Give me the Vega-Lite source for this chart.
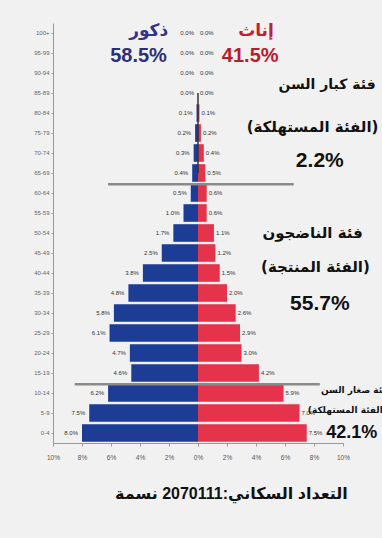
{
  "$schema": "https://vega.github.io/schema/vega-lite/v6.json",
  "width": 290,
  "height": 420,
  "autosize": {"type": "none"},
  "padding": {"left": 53, "top": 23, "right": 39, "bottom": 95},
  "background": "#f1f1f1",
  "config": {"view": {"stroke": null}, "font": "Liberation Sans", "axis": {"labelOverlap": false}, "axisX": {"labelOverlap": false, "labelSeparation": 0, "labelBound": false}},
  "datasets": {
    "pyramid": [
      {"age": "100+", "male": 0.0, "female": 0.0},
      {"age": "95-99", "male": 0.0, "female": 0.0},
      {"age": "90-94", "male": 0.0, "female": 0.0},
      {"age": "85-89", "male": 0.0, "female": 0.0},
      {"age": "80-84", "male": 0.1, "female": 0.1},
      {"age": "75-79", "male": 0.2, "female": 0.2},
      {"age": "70-74", "male": 0.3, "female": 0.4},
      {"age": "65-69", "male": 0.4, "female": 0.5},
      {"age": "60-64", "male": 0.5, "female": 0.6},
      {"age": "55-59", "male": 1.0, "female": 0.6},
      {"age": "50-54", "male": 1.7, "female": 1.1},
      {"age": "45-49", "male": 2.5, "female": 1.2},
      {"age": "40-44", "male": 3.8, "female": 1.5},
      {"age": "35-39", "male": 4.8, "female": 2.0},
      {"age": "30-34", "male": 5.8, "female": 2.6},
      {"age": "25-29", "male": 6.1, "female": 2.9},
      {"age": "20-24", "male": 4.7, "female": 3.0},
      {"age": "15-19", "male": 4.6, "female": 4.2},
      {"age": "10-14", "male": 6.2, "female": 5.9},
      {"age": "5-9", "male": 7.5, "female": 7.0},
      {"age": "0-4", "male": 8.0, "female": 7.5}
    ]
  },
  "layer": [
    {
      "data": {"name": "pyramid"},
      "transform": [{"calculate": "-datum.male", "as": "m"}],
      "mark": {"type": "bar", "color": "#1d3c95"},
      "encoding": {
        "y": {
          "field": "age", "type": "nominal", "title": null,
          "scale": {
            "domain": ["100+","95-99","90-94","85-89","80-84","75-79","70-74","65-69","60-64","55-59","50-54","45-49","40-44","35-39","30-34","25-29","20-24","15-19","10-14","5-9","0-4"],
            "paddingInner": 0.12, "paddingOuter": 0.06
          },
          "axis": {"labelFontSize": 6, "labelColor": "#666666", "domainColor": "#999999", "tickColor": "#999999", "tickSize": 2, "labelPadding": 2, "title": null}
        },
        "x": {
          "field": "m", "type": "quantitative", "title": null,
          "scale": {"domain": [-10, 10], "nice": false},
          "axis": {"values": [-10,-8,-6,-4,-2,0,2,4,6,8,10], "labelExpr": "abs(datum.value) + '%'", "labelOverlap": false, "labelFlush": false, "labelFontSize": 6.5, "labelColor": "#555555", "domainColor": "#999999", "tickColor": "#999999", "tickSize": 3, "labelPadding": 8, "grid": false, "title": null}
        },
        "x2": {"datum": 0}
      }
    },
    {
      "data": {"name": "pyramid"},
      "mark": {"type": "bar", "color": "#e5334b"},
      "encoding": {
        "y": {"field": "age", "type": "nominal", "title": null},
        "x": {"field": "female", "type": "quantitative", "title": null, "axis": {"values": [-10,-8,-6,-4,-2,0,2,4,6,8,10], "labelExpr": "abs(datum.value) + '%'", "labelOverlap": false, "labelFlush": false, "labelFontSize": 6.5, "labelColor": "#555555", "domainColor": "#999999", "tickColor": "#999999", "tickSize": 3, "labelPadding": 8, "grid": false, "title": null}},
        "x2": {"datum": 0}
      }
    },
    {
      "data": {"values": [{"a": 1}]},
      "mark": {"type": "rule", "color": "#333333", "strokeWidth": 1.5},
      "encoding": {
        "x": {"datum": 0, "type": "quantitative", "title": null, "axis": {"values": [-10,-8,-6,-4,-2,0,2,4,6,8,10], "labelExpr": "abs(datum.value) + '%'", "labelOverlap": false, "labelFlush": false, "labelFontSize": 6.5, "labelColor": "#555555", "domainColor": "#999999", "tickColor": "#999999", "tickSize": 3, "labelPadding": 8, "grid": false, "title": null}},
        "y": {"datum": "85-89", "type": "nominal", "title": null},
        "y2": {"datum": "65-69"}
      }
    },
    {
      "data": {"name": "pyramid"},
      "transform": [{"calculate": "-datum.male", "as": "m"}, {"calculate": "format(datum.male, '.1f') + '%'", "as": "lab"}],
      "mark": {"type": "text", "align": "right", "dx": -4, "fontSize": 6, "color": "#333333"},
      "encoding": {
        "y": {"field": "age", "type": "nominal", "title": null},
        "x": {"field": "m", "type": "quantitative", "title": null, "axis": {"values": [-10,-8,-6,-4,-2,0,2,4,6,8,10], "labelExpr": "abs(datum.value) + '%'", "labelOverlap": false, "labelFlush": false, "labelFontSize": 6.5, "labelColor": "#555555", "domainColor": "#999999", "tickColor": "#999999", "tickSize": 3, "labelPadding": 8, "grid": false, "title": null}},
        "text": {"field": "lab"}
      }
    },
    {
      "data": {"name": "pyramid"},
      "transform": [{"calculate": "format(datum.female, '.1f') + '%'", "as": "lab"}],
      "mark": {"type": "text", "align": "left", "dx": 2, "fontSize": 6, "color": "#333333"},
      "encoding": {
        "y": {"field": "age", "type": "nominal", "title": null},
        "x": {"field": "female", "type": "quantitative", "title": null, "axis": {"values": [-10,-8,-6,-4,-2,0,2,4,6,8,10], "labelExpr": "abs(datum.value) + '%'", "labelOverlap": false, "labelFlush": false, "labelFontSize": 6.5, "labelColor": "#555555", "domainColor": "#999999", "tickColor": "#999999", "tickSize": 3, "labelPadding": 8, "grid": false, "title": null}},
        "text": {"field": "lab"}
      }
    },
    {
      "data": {"values": [{"a": 1}]},
      "mark": {"type": "rule", "color": "#8a8a8a", "strokeWidth": 2.5},
      "encoding": {
        "y": {"datum": "60-64", "type": "nominal", "bandPosition": 0, "title": null},
        "x": {"datum": -6.2, "type": "quantitative", "title": null, "axis": {"values": [-10,-8,-6,-4,-2,0,2,4,6,8,10], "labelExpr": "abs(datum.value) + '%'", "labelOverlap": false, "labelFlush": false, "labelFontSize": 6.5, "labelColor": "#555555", "domainColor": "#999999", "tickColor": "#999999", "tickSize": 3, "labelPadding": 8, "grid": false, "title": null}},
        "x2": {"datum": 6.6}
      }
    },
    {
      "data": {"values": [{"a": 1}]},
      "mark": {"type": "rule", "color": "#8a8a8a", "strokeWidth": 2.5},
      "encoding": {
        "y": {"datum": "10-14", "type": "nominal", "bandPosition": 0, "title": null},
        "x": {"datum": -8.5, "type": "quantitative", "title": null, "axis": {"values": [-10,-8,-6,-4,-2,0,2,4,6,8,10], "labelExpr": "abs(datum.value) + '%'", "labelOverlap": false, "labelFlush": false, "labelFontSize": 6.5, "labelColor": "#555555", "domainColor": "#999999", "tickColor": "#999999", "tickSize": 3, "labelPadding": 8, "grid": false, "title": null}},
        "x2": {"datum": 8.4}
      }
    },
    {
      "data": {"values": [{"t": "ذكور", "x": -3.4, "r": "100+"}]},
      "mark": {"type": "text", "font": "DejaVu Sans", "fontWeight": "bold", "fontSize": 17, "color": "#34348a", "dy": -2},
      "encoding": {
        "x": {"datum": -3.4, "type": "quantitative", "title": null, "axis": {"values": [-10,-8,-6,-4,-2,0,2,4,6,8,10], "labelExpr": "abs(datum.value) + '%'", "labelOverlap": false, "labelFlush": false, "labelFontSize": 6.5, "labelColor": "#555555", "domainColor": "#999999", "tickColor": "#999999", "tickSize": 3, "labelPadding": 8, "grid": false, "title": null}},
        "y": {"datum": "100+", "type": "nominal", "title": null},
        "text": {"field": "t"}
      }
    },
    {
      "data": {"values": [{"t": "58.5%"}]},
      "mark": {"type": "text", "fontWeight": "bold", "fontSize": 20, "color": "#2b2f78", "dy": 3},
      "encoding": {
        "x": {"datum": -4.1, "type": "quantitative", "title": null, "axis": {"values": [-10,-8,-6,-4,-2,0,2,4,6,8,10], "labelExpr": "abs(datum.value) + '%'", "labelOverlap": false, "labelFlush": false, "labelFontSize": 6.5, "labelColor": "#555555", "domainColor": "#999999", "tickColor": "#999999", "tickSize": 3, "labelPadding": 8, "grid": false, "title": null}},
        "y": {"datum": "95-99", "type": "nominal", "title": null},
        "text": {"field": "t"}
      }
    },
    {
      "data": {"values": [{"t": "إناث"}]},
      "mark": {"type": "text", "font": "DejaVu Sans", "fontWeight": "bold", "fontSize": 17, "color": "#c0202f", "dy": -2},
      "encoding": {
        "x": {"datum": 4.0, "type": "quantitative", "title": null, "axis": {"values": [-10,-8,-6,-4,-2,0,2,4,6,8,10], "labelExpr": "abs(datum.value) + '%'", "labelOverlap": false, "labelFlush": false, "labelFontSize": 6.5, "labelColor": "#555555", "domainColor": "#999999", "tickColor": "#999999", "tickSize": 3, "labelPadding": 8, "grid": false, "title": null}},
        "y": {"datum": "100+", "type": "nominal", "title": null},
        "text": {"field": "t"}
      }
    },
    {
      "data": {"values": [{"t": "41.5%"}]},
      "mark": {"type": "text", "fontWeight": "bold", "fontSize": 20, "color": "#b81d2c", "dy": 3},
      "encoding": {
        "x": {"datum": 3.6, "type": "quantitative", "title": null, "axis": {"values": [-10,-8,-6,-4,-2,0,2,4,6,8,10], "labelExpr": "abs(datum.value) + '%'", "labelOverlap": false, "labelFlush": false, "labelFontSize": 6.5, "labelColor": "#555555", "domainColor": "#999999", "tickColor": "#999999", "tickSize": 3, "labelPadding": 8, "grid": false, "title": null}},
        "y": {"datum": "95-99", "type": "nominal", "title": null},
        "text": {"field": "t"}
      }
    },
    {
      "data": {"values": [{"t": "فئة كبار السن"}]},
      "mark": {"type": "text", "font": "DejaVu Sans", "fontWeight": "bold", "fontSize": 14, "color": "#111111", "dy": -8},
      "encoding": {
        "x": {"datum": 8.9, "type": "quantitative", "title": null, "axis": {"values": [-10,-8,-6,-4,-2,0,2,4,6,8,10], "labelExpr": "abs(datum.value) + '%'", "labelOverlap": false, "labelFlush": false, "labelFontSize": 6.5, "labelColor": "#555555", "domainColor": "#999999", "tickColor": "#999999", "tickSize": 3, "labelPadding": 8, "grid": false, "title": null}},
        "y": {"datum": "85-89", "type": "nominal", "title": null},
        "text": {"field": "t"}
      }
    },
    {
      "data": {"values": [{"t": "(الفئة المستهلكة)"}]},
      "mark": {"type": "text", "font": "DejaVu Sans", "fontWeight": "bold", "fontSize": 15, "color": "#111111", "dy": -6},
      "encoding": {
        "x": {"datum": 7.9, "type": "quantitative", "title": null, "axis": {"values": [-10,-8,-6,-4,-2,0,2,4,6,8,10], "labelExpr": "abs(datum.value) + '%'", "labelOverlap": false, "labelFlush": false, "labelFontSize": 6.5, "labelColor": "#555555", "domainColor": "#999999", "tickColor": "#999999", "tickSize": 3, "labelPadding": 8, "grid": false, "title": null}},
        "y": {"datum": "75-79", "type": "nominal", "title": null},
        "text": {"field": "t"}
      }
    },
    {
      "data": {"values": [{"t": "2.2%"}]},
      "mark": {"type": "text", "fontWeight": "bold", "fontSize": 21, "color": "#111111", "dy": 8},
      "encoding": {
        "x": {"datum": 8.4, "type": "quantitative", "title": null, "axis": {"values": [-10,-8,-6,-4,-2,0,2,4,6,8,10], "labelExpr": "abs(datum.value) + '%'", "labelOverlap": false, "labelFlush": false, "labelFontSize": 6.5, "labelColor": "#555555", "domainColor": "#999999", "tickColor": "#999999", "tickSize": 3, "labelPadding": 8, "grid": false, "title": null}},
        "y": {"datum": "70-74", "type": "nominal", "title": null},
        "text": {"field": "t"}
      }
    },
    {
      "data": {"values": [{"t": "فئة الناضجون"}]},
      "mark": {"type": "text", "font": "DejaVu Sans", "fontWeight": "bold", "fontSize": 15, "color": "#111111", "dy": 0},
      "encoding": {
        "x": {"datum": 7.9, "type": "quantitative", "title": null, "axis": {"values": [-10,-8,-6,-4,-2,0,2,4,6,8,10], "labelExpr": "abs(datum.value) + '%'", "labelOverlap": false, "labelFlush": false, "labelFontSize": 6.5, "labelColor": "#555555", "domainColor": "#999999", "tickColor": "#999999", "tickSize": 3, "labelPadding": 8, "grid": false, "title": null}},
        "y": {"datum": "50-54", "type": "nominal", "title": null},
        "text": {"field": "t"}
      }
    },
    {
      "data": {"values": [{"t": "(الفئة المنتجة)"}]},
      "mark": {"type": "text", "font": "DejaVu Sans", "fontWeight": "bold", "fontSize": 15, "color": "#111111", "dy": -6},
      "encoding": {
        "x": {"datum": 8.1, "type": "quantitative", "title": null, "axis": {"values": [-10,-8,-6,-4,-2,0,2,4,6,8,10], "labelExpr": "abs(datum.value) + '%'", "labelOverlap": false, "labelFlush": false, "labelFontSize": 6.5, "labelColor": "#555555", "domainColor": "#999999", "tickColor": "#999999", "tickSize": 3, "labelPadding": 8, "grid": false, "title": null}},
        "y": {"datum": "40-44", "type": "nominal", "title": null},
        "text": {"field": "t"}
      }
    },
    {
      "data": {"values": [{"t": "55.7%"}]},
      "mark": {"type": "text", "fontWeight": "bold", "fontSize": 21, "color": "#111111", "dy": -9},
      "encoding": {
        "x": {"datum": 8.4, "type": "quantitative", "title": null, "axis": {"values": [-10,-8,-6,-4,-2,0,2,4,6,8,10], "labelExpr": "abs(datum.value) + '%'", "labelOverlap": false, "labelFlush": false, "labelFontSize": 6.5, "labelColor": "#555555", "domainColor": "#999999", "tickColor": "#999999", "tickSize": 3, "labelPadding": 8, "grid": false, "title": null}},
        "y": {"datum": "30-34", "type": "nominal", "title": null},
        "text": {"field": "t"}
      }
    },
    {
      "data": {"values": [{"t": "فئة صغار السن"}]},
      "mark": {"type": "text", "font": "DejaVu Sans", "fontWeight": "bold", "fontSize": 9, "color": "#111111", "dy": -3},
      "encoding": {
        "x": {"datum": 10.8, "type": "quantitative", "title": null, "axis": {"values": [-10,-8,-6,-4,-2,0,2,4,6,8,10], "labelExpr": "abs(datum.value) + '%'", "labelOverlap": false, "labelFlush": false, "labelFontSize": 6.5, "labelColor": "#555555", "domainColor": "#999999", "tickColor": "#999999", "tickSize": 3, "labelPadding": 8, "grid": false, "title": null}},
        "y": {"datum": "10-14", "type": "nominal", "title": null},
        "text": {"field": "t"}
      }
    },
    {
      "data": {"values": [{"t": "(الفئة المستهلكة)"}]},
      "mark": {"type": "text", "font": "DejaVu Sans", "fontWeight": "bold", "fontSize": 9, "color": "#111111", "dy": -3},
      "encoding": {
        "x": {"datum": 10.3, "type": "quantitative", "title": null, "axis": {"values": [-10,-8,-6,-4,-2,0,2,4,6,8,10], "labelExpr": "abs(datum.value) + '%'", "labelOverlap": false, "labelFlush": false, "labelFontSize": 6.5, "labelColor": "#555555", "domainColor": "#999999", "tickColor": "#999999", "tickSize": 3, "labelPadding": 8, "grid": false, "title": null}},
        "y": {"datum": "5-9", "type": "nominal", "title": null},
        "text": {"field": "t"}
      }
    },
    {
      "data": {"values": [{"t": "42.1%"}]},
      "mark": {"type": "text", "fontWeight": "bold", "fontSize": 18, "color": "#111111", "dy": 0},
      "encoding": {
        "x": {"datum": 10.6, "type": "quantitative", "title": null, "axis": {"values": [-10,-8,-6,-4,-2,0,2,4,6,8,10], "labelExpr": "abs(datum.value) + '%'", "labelOverlap": false, "labelFlush": false, "labelFontSize": 6.5, "labelColor": "#555555", "domainColor": "#999999", "tickColor": "#999999", "tickSize": 3, "labelPadding": 8, "grid": false, "title": null}},
        "y": {"datum": "0-4", "type": "nominal", "title": null},
        "text": {"field": "t"}
      }
    },
    {
      "data": {"values": [{"t": "التعداد السكاني:2070111 نسمة"}]},
      "mark": {"type": "text", "font": "Liberation Sans, DejaVu Sans", "fontWeight": "bold", "fontSize": 16, "color": "#111111", "dy": 61},
      "encoding": {
        "x": {"datum": 2.3, "type": "quantitative", "title": null, "axis": {"values": [-10,-8,-6,-4,-2,0,2,4,6,8,10], "labelExpr": "abs(datum.value) + '%'", "labelOverlap": false, "labelFlush": false, "labelFontSize": 6.5, "labelColor": "#555555", "domainColor": "#999999", "tickColor": "#999999", "tickSize": 3, "labelPadding": 8, "grid": false, "title": null}},
        "y": {"datum": "0-4", "type": "nominal", "title": null},
        "text": {"field": "t"}
      }
    }
  ]
}
